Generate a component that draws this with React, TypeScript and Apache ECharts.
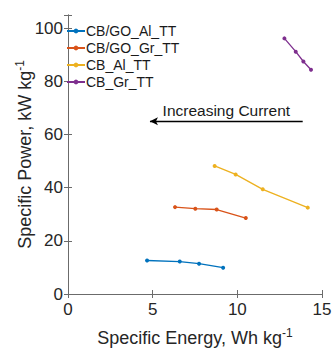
import React, { useEffect, useRef } from "react";
import * as echarts from "echarts";

const seriesNames = ["CB/GO_Al_TT", "CB/GO_Gr_TT", "CB_Al_TT", "CB_Gr_TT"];
const colors = ["#0072BD", "#D95319", "#EDB120", "#7E2F8E"];
const energyAlGO = [4.67, 6.6, 7.74, 9.16];
const powerAlGO = [12.6, 12.2, 11.4, 9.9];
const energyGrGO = [6.32, 7.52, 8.78, 10.5];
const powerGrGO = [32.7, 32.1, 31.8, 28.6];
const energyAl = [8.66, 9.9, 11.5, 14.16];
const powerAl = [48.2, 45.0, 39.4, 32.5];
const energyGr = [12.78, 13.45, 13.9, 14.35];
const powerGr = [96.2, 91.2, 87.5, 84.4];
const xTicks = [0, 5, 10, 15];
const yTicks = [0, 20, 40, 60, 80, 100];
const arrowStart = [13.86, 65.0];
const arrowEnd = [4.84, 65.0];
const arrowText = "Increasing Current";

const FONT = "'Liberation Sans', Arial, Helvetica, sans-serif";

export default function App() {
  const ref = useRef<HTMLDivElement>(null);
  useEffect(() => {
    if (!ref.current) return;
    const chart = echarts.init(ref.current, undefined, { renderer: "svg" });
    const xs = [energyAlGO, energyGrGO, energyAl, energyGr];
    const ys = [powerAlGO, powerGrGO, powerAl, powerGr];
    const series: any[] = seriesNames.map((name, i) => ({
      name,
      type: "line",
      data: xs[i].map((x, j) => [x, ys[i][j]]),
      symbol: "circle",
      symbolSize: 4,
      showSymbol: true,
      lineStyle: { color: colors[i], width: 1.3 },
      itemStyle: { color: colors[i] },
      xAxisIndex: 0,
      yAxisIndex: 0,
    }));
    series[0].markLine = {
      silent: true,
      symbol: ["none", "arrow"],
      symbolSize: [6, 8],
      lineStyle: { color: "#000", width: 1.3, type: "solid" },
      label: {
        show: true,
        position: "insideMiddleTop",
        formatter: arrowText,
        color: "#1a1a1a",
        fontSize: 15.5,
        fontFamily: FONT,
        distance: 3,
      },
      data: [[{ coord: arrowStart }, { coord: arrowEnd }]],
    };
    const axisLineStyle = { color: "#6b6b6b", width: 1 };
    const labelStyle = { color: "#262626", fontSize: 17, fontFamily: FONT };
    const nameStyle = {
      color: "#262626",
      fontSize: 18,
      fontFamily: FONT,
      rich: { sup: { fontSize: 12, verticalAlign: "top", padding: [0, 0, 10, 0], color: "#262626", fontFamily: FONT } },
    };
    chart.setOption({
      animation: false,
      textStyle: { fontFamily: FONT },
      grid: { left: 68, right: 11, top: 15, bottom: 54, containLabel: false, outerBoundsMode: "none" },
      legend: {
        left: 66,
        top: 24,
        orient: "vertical",
        padding: 0,
        itemGap: 3,
        itemWidth: 18,
        itemHeight: 6,
        data: seriesNames,
        textStyle: { color: "#1a1a1a", fontSize: 14, fontFamily: FONT, padding: [0, 0, 0, -4], lineHeight: 14 },
      },
      xAxis: [
        {
          type: "value",
          min: 0,
          max: 15,
          interval: 5,
          position: "bottom",
          name: "Specific Energy, Wh kg{sup|-1}",
          nameLocation: "middle",
          nameGap: 33,
          nameMoveOverlap: false,
          nameTextStyle: nameStyle,
          axisLine: { show: true, lineStyle: axisLineStyle },
          axisTick: { show: true, inside: true, length: 4, lineStyle: axisLineStyle },
          axisLabel: { ...labelStyle, margin: 7, formatter: (v: number) => (xTicks.includes(v) ? String(v) : "") },
          splitLine: { show: false },
        },
        {
          type: "value",
          min: 0,
          max: 15,
          interval: 5,
          position: "top",
          axisLine: { show: true, lineStyle: axisLineStyle },
          axisTick: { show: true, inside: true, length: 4, lineStyle: axisLineStyle },
          axisLabel: { show: false },
          splitLine: { show: false },
        },
      ],
      yAxis: [
        {
          type: "value",
          min: 0,
          max: 105,
          interval: 20,
          position: "left",
          name: "Specific Power, kW kg{sup|-1}",
          nameLocation: "middle",
          nameGap: 32,
          nameMoveOverlap: false,
          nameTextStyle: nameStyle,
          axisLine: { show: true, lineStyle: axisLineStyle },
          axisTick: { show: true, inside: true, length: 4, lineStyle: axisLineStyle },
          axisLabel: { ...labelStyle, margin: 5, formatter: (v: number) => (yTicks.includes(v) ? String(v) : "") },
          splitLine: { show: false },
        },
        {
          type: "value",
          min: 0,
          max: 105,
          interval: 20,
          position: "right",
          axisLine: { show: true, lineStyle: axisLineStyle },
          axisTick: { show: true, inside: true, length: 4, lineStyle: axisLineStyle },
          axisLabel: { show: false },
          splitLine: { show: false },
        },
      ],
      series,
    });
    return () => chart.dispose();
  }, []);
  return <div ref={ref} style={{ width: 333, height: 348, position: "absolute", left: 0, top: 0 }} />;
}
